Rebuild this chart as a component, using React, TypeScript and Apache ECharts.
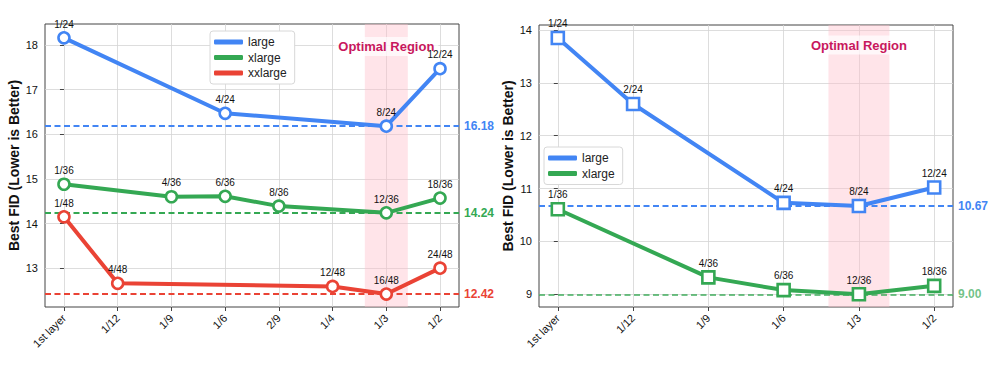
import React, { useEffect, useRef } from "react";
import * as echarts from "echarts";

const leftCategories = ["1st layer", "1/12", "1/9", "1/6", "2/9", "1/4", "1/3", "1/2"];
const rightCategories = ["1st layer", "1/12", "1/9", "1/6", "1/3", "1/2"];

const leftLargeCats = ["1st layer", "1/6", "1/3", "1/2"];
const leftLargeValues = [18.16, 16.47, 16.18, 17.47];
const leftLargeLabels = ["1/24", "4/24", "8/24", "12/24"];

const leftXlargeCats = ["1st layer", "1/9", "1/6", "2/9", "1/3", "1/2"];
const leftXlargeValues = [14.88, 14.6, 14.61, 14.39, 14.24, 14.57];
const leftXlargeLabels = ["1/36", "4/36", "6/36", "8/36", "12/36", "18/36"];

const leftXxlargeCats = ["1st layer", "1/12", "1/4", "1/3", "1/2"];
const leftXxlargeValues = [14.15, 12.66, 12.59, 12.42, 13.0];
const leftXxlargeLabels = ["1/48", "4/48", "12/48", "16/48", "24/48"];

const leftBest = [16.18, 14.24, 12.42];
const leftYTicks = [13, 14, 15, 16, 17, 18];

const rightLargeCats = ["1st layer", "1/12", "1/6", "1/3", "1/2"];
const rightLargeValues = [13.85, 12.6, 10.73, 10.67, 11.02];
const rightLargeLabels = ["1/24", "2/24", "4/24", "8/24", "12/24"];

const rightXlargeCats = ["1st layer", "1/9", "1/6", "1/3", "1/2"];
const rightXlargeValues = [10.61, 9.32, 9.08, 9.0, 9.16];
const rightXlargeLabels = ["1/36", "4/36", "6/36", "12/36", "18/36"];

const rightBest = [10.67, 9.0];
const rightYTicks = [9, 10, 11, 12, 13, 14];

const BLUE = "#4285F4";
const GREEN = "#34A853";
const RED = "#EA4335";
const FONT = "'Liberation Sans', Arial, sans-serif";

function App() {
  const ref = useRef<HTMLDivElement>(null);
  useEffect(() => {
    if (!ref.current) return;
    const chart = echarts.init(ref.current, null, { renderer: "svg" });

    const mkData = (cats: string[], all: string[], vals: number[]) =>
      cats.map((c, i) => [all.indexOf(c), vals[i]]);

    const mkSeries = (
      name: string,
      color: string,
      symbol: string,
      symbolSize: number,
      gi: number,
      data: number[][],
      labels: string[],
      best: number,
      bestOpacity: number,
      extra: any = {}
    ) => ({
      type: "line",
      name,
      xAxisIndex: gi,
      yAxisIndex: gi,
      data,
      symbol,
      symbolSize,
      showAllSymbol: true,
      lineStyle: { color, width: 4 },
      itemStyle: { color: "#fff", borderColor: color, borderWidth: 2.6 },
      z: 3,
      label: {
        show: true,
        position: "top",
        distance: 2,
        color: "#111",
        fontSize: 10,
        fontFamily: FONT,
        formatter: (p: any) => labels[p.dataIndex],
      },
      markLine: {
        silent: true,
        symbol: "none",
        z: 2,
        lineStyle: { color, type: [6, 3.5], width: 1.8, opacity: bestOpacity },
        label: {
          show: true,
          position: "end",
          distance: 5,
          color,
          fontWeight: "bold",
          fontSize: 12,
          fontFamily: FONT,
          formatter: () => best.toFixed(2),
        },
        data: [{ yAxis: best }],
      },
      ...extra,
    });

    const optimalArea = (lo: number, hi: number, dist: number) => ({
      silent: true,
      z: 1,
      itemStyle: { color: "rgba(255,190,202,0.42)" },
      label: {
        show: true,
        position: "insideTop",
        distance: dist,
        formatter: "Optimal Region",
        color: "#C8175D",
        fontWeight: "bold",
        fontSize: 13,
        fontFamily: FONT,
        backgroundColor: "rgba(255,255,255,0.7)",
        padding: [3, 4],
      },
      data: [[{ xAxis: lo }, { xAxis: hi }]],
    });

    const xAxisBase = (gi: number, cats: string[], pad: number) => ({
      type: "value",
      gridIndex: gi,
      min: -pad,
      max: cats.length - 1 + pad,
      axisLine: { show: false },
      axisTick: {
        show: true,
        customValues: cats.map((_, i) => i),
        length: 4,
        lineStyle: { color: "#444" },
      },
      axisLabel: {
        customValues: cats.map((_, i) => i),
        formatter: (v: number) => cats[Math.round(v)] ?? "",
        rotate: 45,
        margin: 9,
        fontSize: 11,
        color: "#111",
        fontFamily: FONT,
      },
      splitLine: { show: true, lineStyle: { color: "#d4d4d4", width: 0.8 } },
    });

    const yAxisBase = (gi: number, min: number, max: number, ticks: number[], nameGap: number) => ({
      type: "value",
      gridIndex: gi,
      min,
      max,
      name: "Best FID (Lower is Better)",
      nameLocation: "middle",
      nameGap,
      nameTextStyle: { fontSize: 14, fontWeight: "bold", color: "#111", fontFamily: FONT },
      axisLine: { show: false },
      axisTick: { show: true, customValues: ticks, length: 4, lineStyle: { color: "#444" } },
      axisLabel: { customValues: ticks, fontSize: 11, color: "#111", margin: 7, fontFamily: FONT },
      splitLine: { show: true, lineStyle: { color: "#d4d4d4", width: 0.8 } },
    });

    const legendBase = (left: number, top: number, names: string[], colors: string[]) => ({
      show: true,
      orient: "vertical",
      left,
      top,
      icon: "roundRect",
      itemWidth: 29,
      itemHeight: 5,
      itemGap: 3.5,
      padding: [5, 8, 5, 4],
      backgroundColor: "#fff",
      borderColor: "#d8d8d8",
      borderWidth: 1,
      borderRadius: 3,
      textStyle: { fontSize: 12, color: "#222", fontFamily: FONT },
      selectedMode: false,
      data: names.map((n, i) => ({ name: n, itemStyle: { color: colors[i], borderWidth: 0 } })),
    });

    const option: any = {
      animation: false,
      backgroundColor: "#fff",
      textStyle: { fontFamily: FONT },
      grid: [
        { left: 45, top: 24, width: 414, height: 283, show: true, borderColor: "#444", borderWidth: 1, backgroundColor: "transparent" },
        { left: 539, top: 25, width: 414, height: 282, show: true, borderColor: "#444", borderWidth: 1, backgroundColor: "transparent" },
      ],
      xAxis: [xAxisBase(0, leftCategories, 0.353), xAxisBase(1, rightCategories, 0.25)],
      yAxis: [yAxisBase(0, 12.13, 18.47, leftYTicks, 24), yAxisBase(1, 8.76, 14.095, rightYTicks, 24)],
      legend: [
        legendBase(210, 31, ["large", "xlarge", "xxlarge"], [BLUE, GREEN, RED]),
        legendBase(544, 147, ["large", "xlarge"], [BLUE, GREEN]),
      ],
      series: [
        mkSeries("large", BLUE, "circle", 11, 0, mkData(leftLargeCats, leftCategories, leftLargeValues), leftLargeLabels, leftBest[0], 1, {
          markArea: optimalArea(5.6, 6.4, 13),
        }),
        mkSeries("xlarge", GREEN, "circle", 11, 0, mkData(leftXlargeCats, leftCategories, leftXlargeValues), leftXlargeLabels, leftBest[1], 1),
        mkSeries("xxlarge", RED, "circle", 11, 0, mkData(leftXxlargeCats, leftCategories, leftXxlargeValues), leftXxlargeLabels, leftBest[2], 1),
        mkSeries("large", BLUE, "rect", 12, 1, mkData(rightLargeCats, rightCategories, rightLargeValues), rightLargeLabels, rightBest[0], 1, {
          markArea: optimalArea(3.595, 4.405, 10.5),
        }),
        mkSeries("xlarge", GREEN, "rect", 12, 1, mkData(rightXlargeCats, rightCategories, rightXlargeValues), rightXlargeLabels, rightBest[1], 0.7),
      ],
    };
    chart.setOption(option);
    return () => chart.dispose();
  }, []);
  return (
    <div
      ref={ref}
      style={{ position: "absolute", left: 0, top: 0, width: 996, height: 374 }}
    />
  );
}

export default App;
